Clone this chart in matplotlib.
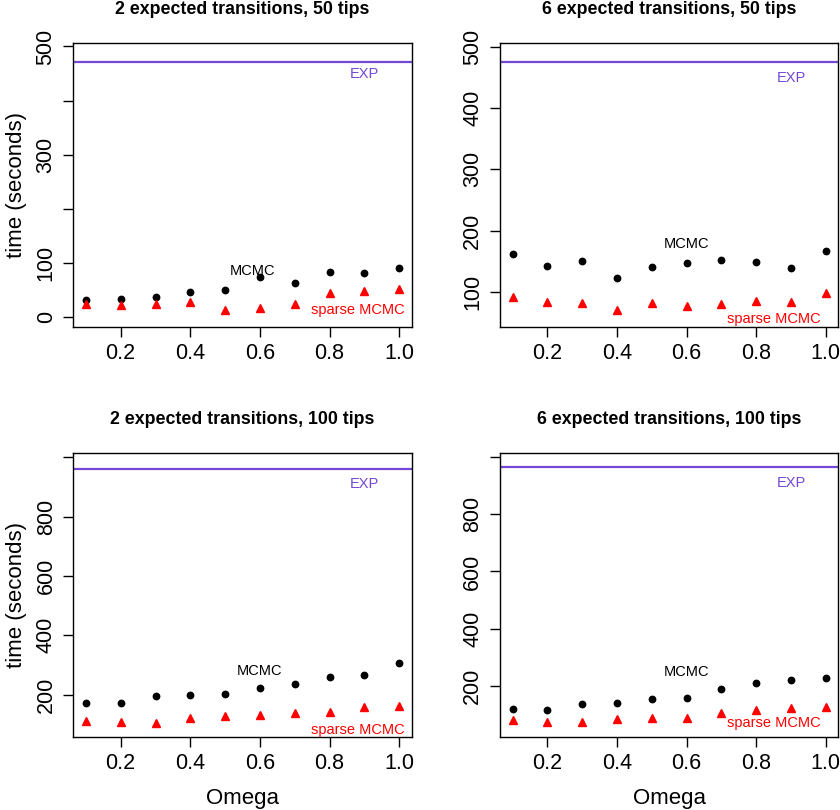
import numpy as np
import matplotlib
matplotlib.use('Agg')
from matplotlib import pyplot as plt

plt.rcParams['font.family'] = ['Liberation Sans', 'DejaVu Sans']

# data
omega = [0.1, 0.2, 0.3, 0.4, 0.5, 0.6, 0.7, 0.8, 0.9, 1.0]
titles = ['2 expected transitions, 50 tips', '6 expected transitions, 50 tips',
          '2 expected transitions, 100 tips', '6 expected transitions, 100 tips']

mcmc_2_50 = [31.5, 32, 36.4, 45, 50, 73.5, 61.7, 82.7, 80.2, 90]
sparse_2_50 = [22.8, 21, 23.5, 27.8, 11.7, 16, 22.8, 44.4, 46.9, 50.6]
exp_2_50 = 472

mcmc_6_50 = [161.4, 142.9, 150, 122.8, 140.2, 147.3, 151.6, 148.4, 138.6, 167.4]
sparse_6_50 = [92.4, 83.2, 82.6, 71.2, 82.6, 77.2, 80.4, 85.3, 83.7, 97.8]
exp_6_50 = 475

mcmc_2_100 = [171.9, 173, 194.4, 200, 203.4, 221.3, 235.9, 259.6, 266.3, 305.6]
sparse_2_100 = [112.4, 107.9, 105.6, 122.5, 129.2, 131.5, 137, 142.7, 157.3, 161.8]
exp_2_100 = 961

mcmc_6_100 = [119.8, 117.4, 136, 139.5, 153.5, 157, 190.7, 211.6, 219.8, 227.9]
sparse_6_100 = [80.2, 75.6, 73.3, 83.7, 89.5, 87.2, 104.7, 116.3, 123.3, 127.9]
exp_6_100 = 965

xticks = [0.2, 0.4, 0.6, 0.8, 1.0]
xticklabels = ['0.2', '0.4', '0.6', '0.8', '1.0']
yticks_list = [[0, 100, 200, 300, 400, 500],
               [100, 200, 300, 400, 500],
               [200, 400, 600, 800, 1000],
               [200, 400, 600, 800, 1000]]
yticklabels_list = [['0', '100', '', '300', '', '500'],
                    ['100', '200', '300', '400', '500'],
                    ['200', '400', '600', '800', ''],
                    ['200', '400', '600', '800', '']]

panels = [(mcmc_2_50, sparse_2_50, exp_2_50),
          (mcmc_6_50, sparse_6_50, exp_6_50),
          (mcmc_2_100, sparse_2_100, exp_2_100),
          (mcmc_6_100, sparse_6_100, exp_6_100)]

# layout / label placement
ylims = [(-18.5, 506), (43.5, 505.4), (58.4, 1015.7), (23.3, 1014)]
mcmc_lab = [(0.58, 84.6), (0.60, 178.8), (0.60, 278.7), (0.60, 247.7)]
sparse_lab = [(0.88, 12), (0.85, 56.5), (0.88, 81), (0.85, 69.8)]
exp_lab = [(0.90, 450), (0.90, 449), (0.90, 909), (0.90, 910)]
boxes = [[0.0873, 0.5967, 0.4029, 0.3499],
         [0.5952, 0.5967, 0.4029, 0.3499],
         [0.0873, 0.0905, 0.4029, 0.3506],
         [0.5952, 0.0905, 0.4029, 0.3506]]

purple = '#7447d6'

fig = plt.figure(figsize=(8.4, 8.1), dpi=100)

for i in range(4):
    ax = fig.add_axes(boxes[i])
    mcmc, sparse, exp_t = panels[i]
    ax.axhline(exp_t, color=purple, lw=1.6)
    ax.plot(omega, mcmc, 'o', color='black', ms=4.6, clip_on=False)
    ax.plot(omega, sparse, '^', color='red', ms=6, clip_on=False)
    ax.text(*mcmc_lab[i], 'MCMC', ha='center', va='center', fontsize=10.5)
    ax.text(*sparse_lab[i], 'sparse MCMC', ha='center', va='center', fontsize=10.5, color='red')
    ax.text(*exp_lab[i], 'EXP', ha='center', va='center', fontsize=10.5, color=purple)

    ax.set_xlim(0.064, 1.036)
    ax.set_ylim(*ylims[i])
    ax.set_xticks(xticks)
    ax.set_xticklabels(xticklabels, fontsize=15.5)
    ax.set_yticks(yticks_list[i])
    ax.set_yticklabels(yticklabels_list[i], fontsize=15.5, rotation=90, va='center')
    ax.tick_params(direction='out', length=7, width=1, pad=5)
    for s in ax.spines.values():
        s.set_linewidth(1)
    ax.set_title(titles[i], fontsize=12.8, fontweight='bold', pad=21)
    if i % 2 == 0:
        ax.set_ylabel('time (seconds)', fontsize=16, labelpad=6)
    if i >= 2:
        ax.set_xlabel('Omega', fontsize=16, labelpad=10)

fig.savefig('out.png', dpi=100)
